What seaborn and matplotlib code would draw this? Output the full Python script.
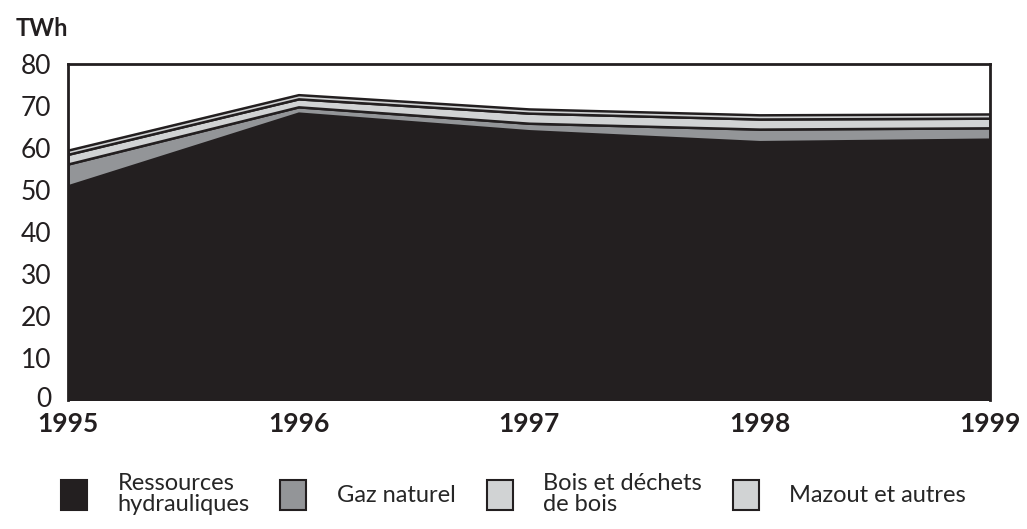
import matplotlib
matplotlib.use("Agg")
import matplotlib.pyplot as plt
import matplotlib.transforms as mtransforms
from matplotlib.patches import Patch
import seaborn as sns
import numpy as np

years = [1995, 1996, 1997, 1998, 1999]
hydro = [51.0, 68.3, 64.1, 61.5, 62.1]
gaz = [5.2, 1.5, 1.8, 3.0, 2.7]
bois = [2.3, 1.9, 2.4, 2.4, 2.3]
mazout = [1.0, 1.0, 1.0, 1.0, 1.0]

labels = ["Ressources\nhydrauliques", "Gaz naturel", "Bois et déchets\nde bois", "Mazout et autres"]
colors = ["#231f20", "#939598", "#d1d3d4", "#d1d3d4"]

sns.set_style("white")
plt.rcParams['font.family'] = ['Lato', 'DejaVu Sans']

fig = plt.figure(figsize=(10.27, 5.29), dpi=100)
ax = fig.add_axes([68 / 1027, 1 - 400 / 529, (990 - 68) / 1027, (400 - 64) / 529])

ax.stackplot(years, hydro, gaz, bois, mazout, colors=colors,
             edgecolor="#231f20", linewidth=1.8)

ax.set_xlim(1995, 1999)
ax.set_ylim(0, 80)
ax.set_xticks(years)
ax.set_xticklabels([str(y) for y in years], fontsize=19, fontweight="bold", color="#231f20")
ax.set_yticks(range(0, 81, 10))
ax.tick_params(axis="y", labelsize=19, length=11, width=1.2, colors="#231f20", pad=1)
ax.tick_params(axis="x", length=0, pad=9)

# nudge the "0" label up a little so it clears "1995"
zero_lab = ax.get_yticklabels()[0]
zero_lab.set_transform(zero_lab.get_transform() +
                       mtransforms.ScaledTranslation(0, 3 / 100, fig.dpi_scale_trans))

for side in ["top", "left", "right"]:
    ax.spines[side].set_color("#231f20")
    ax.spines[side].set_linewidth(2)
ax.spines["bottom"].set_visible(False)

fig.text(16 / 1027, 1 - 28 / 529, "TWh", fontsize=17, fontweight="bold",
         color="#231f20", va="center", ha="left")

handles = [Patch(facecolor=c, edgecolor="#231f20", linewidth=1.5) for c in colors]
leg = fig.legend(handles, labels, loc="center", bbox_to_anchor=(0.5, 1 - 494 / 529),
                 ncol=4, frameon=False, fontsize=17, handlelength=1.1, handleheight=1.6,
                 columnspacing=1.3, handletextpad=1.3, labelspacing=0.1)
for t in leg.get_texts():
    t.set_multialignment("left")
    t.set_linespacing(0.95)

fig.savefig("out.png", dpi=100, facecolor="white")
